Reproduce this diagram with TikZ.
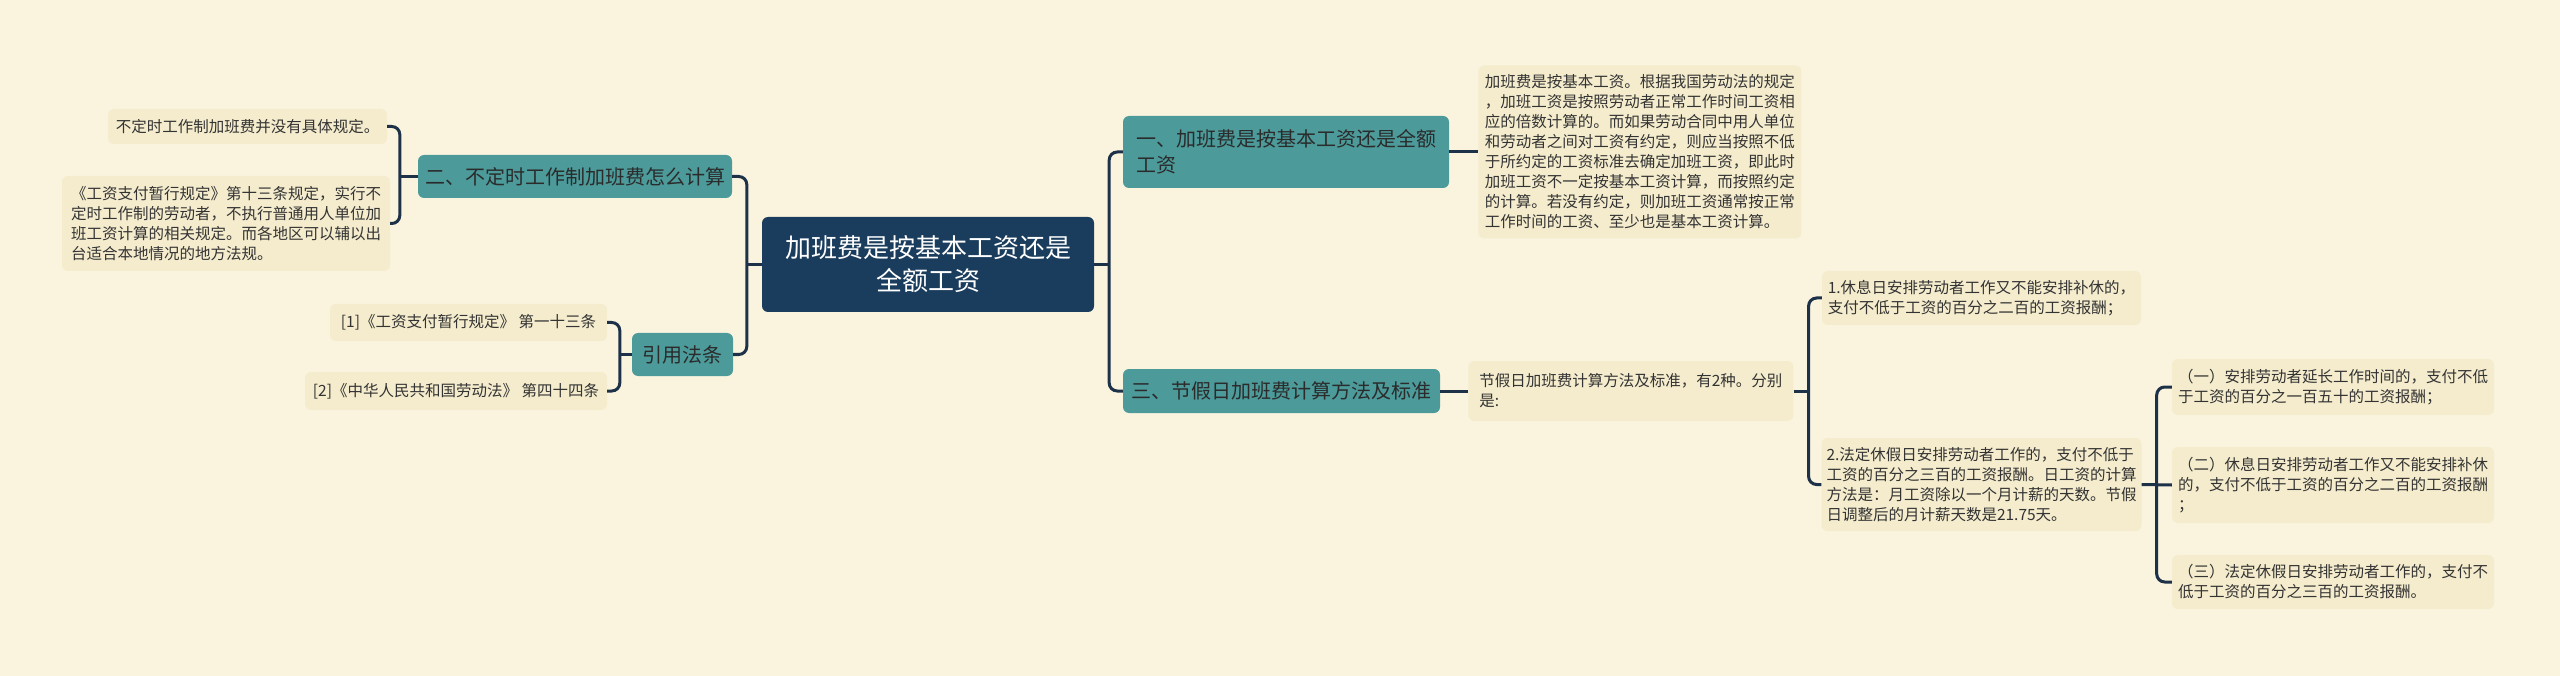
\documentclass[tikz,border=0pt]{standalone}
\usepackage{fontspec}
\setmainfont{Noto Sans CJK SC}
\usepackage{tikz}
\usetikzlibrary{positioning}
\usepackage{xcolor}

\definecolor{bgcream}{HTML}{FAF4DF}
\definecolor{leafcream}{HTML}{F4ECCD}
\definecolor{branchteal}{HTML}{4C9A9A}
\definecolor{rootnavy}{HTML}{1B3D5D}
\definecolor{linknavy}{HTML}{1D3149}
\definecolor{textdark}{HTML}{2B2B2B}
\definecolor{textgray}{HTML}{333333}

\begin{document}
\begin{tikzpicture}[
        x=1pt, y=-1pt,
        rootbox/.style={
            rectangle,
            rounded corners=6pt,
            fill=rootnavy,
            text=white,
            align=center,
            minimum width=332pt,
            minimum height=95pt,
            inner sep=0pt,
            font=\fontsize{26}{33}\selectfont
        },
        branch/.style={
            rectangle,
            rounded corners=6pt,
            fill=branchteal,
            text=textdark,
            align=left,
            minimum height=43pt,
            inner sep=5pt,
            font=\fontsize{20}{26}\selectfont
        },
        leaf/.style={
            rectangle,
            rounded corners=6pt,
            fill=leafcream,
            text=textgray,
            align=left,
            inner sep=5pt,
            font=\fontsize{15.5}{20}\selectfont
        },
        link/.style={
            draw=linknavy,
            line width=3pt,
            rounded corners=8pt
        }
    ]

        \fill[bgcream] (0,0) rectangle (2560,676);

        \node[rootbox] (root) at (928,264.5) {加班费是按基本工资还是\\全额工资};

        \node[branch, minimum width=326pt, minimum height=72pt] (costbase) at (1286,152) {一、加班费是按基本工资还是全额\\工资};
        \node[leaf, right=29pt of costbase, minimum width=323pt, minimum height=173pt] (costtext) {加班费是按基本工资。根据我国劳动法的规定\\，加班工资是按照劳动者正常工作时间工资相\\应的倍数计算的。而如果劳动合同中用人单位\\和劳动者之间对工资有约定，则应当按照不低\\于所约定的工资标准去确定加班工资，即此时\\加班工资不一定按基本工资计算，而按照约定\\的计算。若没有约定，则加班工资通常按正常\\工作时间的工资、至少也是基本工资计算。};

        \node[branch, minimum width=314pt] (flexi) at (575,176.5) {二、不定时工作制加班费怎么计算};
        \node[leaf, minimum width=279pt, minimum height=35pt, align=center] (flexia) at (247.5,126.5) {不定时工作制加班费并没有具体规定。};
        \node[leaf, minimum width=328pt, minimum height=95pt] (flexib) at (226,223.5) {《工资支付暂行规定》第十三条规定，实行不\\定时工作制的劳动者，不执行普通用人单位加\\班工资计算的相关规定。而各地区可以辅以出\\台适合本地情况的地方法规。};

        \node[branch, minimum width=101pt, align=center] (laws) at (682.5,354.5) {引用法条};
        \node[leaf, minimum width=277pt, minimum height=37pt, align=center] (lawa) at (468.5,322.5) {[1]《工资支付暂行规定》 第一十三条};
        \node[leaf, minimum width=302pt, minimum height=38pt, align=center] (lawb) at (456,391) {[2]《中华人民共和国劳动法》 第四十四条};

        \node[branch, minimum width=317pt, minimum height=44pt] (holiday) at (1281.5,391) {三、节假日加班费计算方法及标准};
        \node[leaf, right=28pt of holiday, minimum width=325pt, minimum height=60pt] (holtext) {节假日加班费计算方法及标准，有2种。分别\\是:};
        \node[leaf, minimum width=319pt, minimum height=54pt] (restday) at (1981.5,298) {1.休息日安排劳动者工作又不能安排补休的，\\支付不低于工资的百分之二百的工资报酬；};
        \node[leaf, minimum width=319pt, minimum height=93pt] (legalday) at (1981.5,484.5) {2.法定休假日安排劳动者工作的，支付不低于\\工资的百分之三百的工资报酬。日工资的计算\\方法是：月工资除以一个月计薪的天数。节假\\日调整后的月计薪天数是21.75天。};
        \node[leaf, minimum width=322pt, minimum height=56pt] (rulea) at (2333,387) {（一）安排劳动者延长工作时间的，支付不低\\于工资的百分之一百五十的工资报酬；};
        \node[leaf, minimum width=322pt, minimum height=76pt] (ruleb) at (2333,485) {（二）休息日安排劳动者工作又不能安排补休\\的，支付不低于工资的百分之二百的工资报酬\\；};
        \node[leaf, minimum width=322pt, minimum height=54pt] (rulec) at (2333,582) {（三）法定休假日安排劳动者工作的，支付不\\低于工资的百分之三百的工资报酬。};

        \draw[link] (costbase.west) -| ([xshift=15pt]root.east) |- (holiday.west);
        \draw[link] (root.east) -- ++(15,0);
        \draw[link] (flexi.east) -| ([xshift=-15pt]root.west) |- (laws.east);
        \draw[link] (root.west) -- ++(-15,0);

        \draw[link] (costbase) -- (costtext);
        \draw[link] (holiday) -- (holtext);

        \draw[link] (flexia.east) -| ([xshift=-18pt]flexi.west) |- (flexib.east);
        \draw[link] (flexi.west) -- ++(-18,0);
        \draw[link] (lawa.east) -| ([xshift=-12pt]laws.west) |- (lawb.east);
        \draw[link] (laws.west) -- ++(-12,0);

        \draw[link] (restday.west) -| ([xshift=15pt]holtext.east) |- (legalday.west);
        \draw[link] (holtext.east) -- ++(15,0);
        \draw[link] (rulea.west) -| ([xshift=15pt]legalday.east) |- (rulec.west);
        \draw[link] (legalday.east) -- (ruleb.west);

    \end{tikzpicture}
\end{document}
